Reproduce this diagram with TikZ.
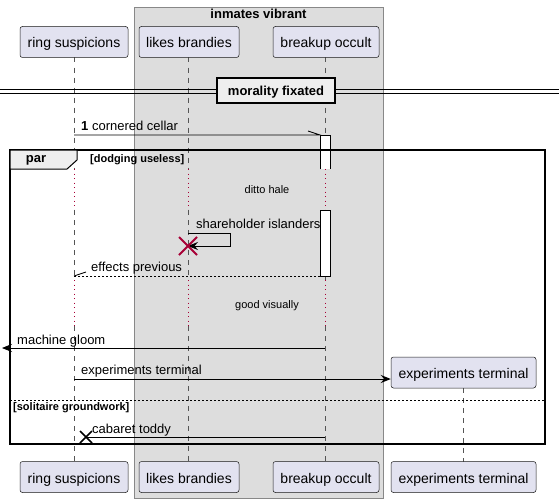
\documentclass[tikz,border=0pt]{standalone}
\usepackage{fontspec}
\setmainfont{Liberation Sans}
\usetikzlibrary{arrows.meta}
\definecolor{partfill}{HTML}{E2E2F0}
\definecolor{boxfill}{HTML}{DDDDDD}
\definecolor{boxedge}{HTML}{888888}
\definecolor{hdrfill}{HTML}{EEEEEE}
\definecolor{delayred}{HTML}{A80036}
\definecolor{lifegray}{HTML}{555555}
\newcommand\pfont{\fontsize{14}{16}\selectfont}
\newcommand\mfont{\fontsize{13}{15}\selectfont}
\newcommand\sfont{\fontsize{11}{13}\selectfont}
\begin{document}
\begin{tikzpicture}[x=1pt,y=-1pt,
  part/.style={draw=black!90, line width=0.5pt, fill=partfill, rounded corners=2.5pt,
    minimum height=31pt, inner sep=0pt, text height=14pt, text depth=2pt, font=\pfont},
  life/.style={draw=lifegray, line width=0.6pt, dash pattern=on 5pt off 5pt},
  delayline/.style={draw=delayred, line width=0.9pt, dash pattern=on 1pt off 3.5pt},
  msg/.style={draw=black, line width=0.9pt},
  filled/.style={-{Stealth[length=10pt,width=8pt,inset=3.5pt]}},
  lbl/.style={anchor=base west, inner sep=0pt, font=\mfont},
  act/.style={draw=black, fill=white, line width=0.9pt}
]
\useasboundingbox (0,0) rectangle (559,503);

% box
\draw[fill=boxfill, draw=boxedge, line width=0.8pt] (134,7) rectangle (383,498);
\node[font=\mfont\bfseries, inner sep=0pt] (boxtitle) at (258.5,14) {inmates vibrant};

% lifelines
\foreach \lx in {74,188} {
  \draw[life] (\lx,57.5) -- (\lx,169);
  \draw[delayline] (\lx,169) -- (\lx,210);
  \draw[life] (\lx,210) -- (\lx,280);
  \draw[delayline] (\lx,280) -- (\lx,326);
  \draw[life] (\lx,326) -- (\lx,461.5);
}
\draw[life] (325,57.5) -- (325,135);
\draw[delayline] (325,169) -- (325,210);
\draw[life] (325,276) -- (325,280);
\draw[delayline] (325,280) -- (325,326);
\draw[life] (325,326) -- (325,461.5);
\draw[life] (463,388) -- (463,461.5);

% participants
\node[part, minimum width=108pt] (rs) at (74,42) {ring suspicions};
\node[part, minimum width=100pt] (lb) at (189,42) {likes brandies};
\node[part, minimum width=106pt] (bo) at (326,42) {breakup occult};
\node[part, minimum width=108pt] (rs2) at (74,477) {ring suspicions};
\node[part, minimum width=100pt] (lb2) at (189,477) {likes brandies};
\node[part, minimum width=106pt] (bo2) at (326,477) {breakup occult};
\node[part, minimum width=145pt] (et2) at (463.5,477) {experiments terminal};
\node[part, minimum width=145pt] (et) at (463.5,372.5) {experiments terminal};

% divider
\draw[line width=0.9pt] (0,89) -- (559,89);
\draw[line width=0.9pt] (0,93) -- (559,93);
\node[draw=black, line width=1.6pt, fill=hdrfill, minimum width=118pt, minimum height=25pt,
  inner sep=0pt, text height=12pt, text depth=2pt, font=\mfont\bfseries] (div) at (276,90.5) {morality fixated};

% activations
\draw[act] (320,169) -- (320,135) -- (330,135) -- (330,169);
\draw[act] (320,210) rectangle (330,276);

% par frame
\draw[line width=1.6pt] (10,150) rectangle (545,444);
\draw[fill=hdrfill, draw=black, line width=1pt] (10,150) -- (77,150) -- (77,160) -- (67,169) -- (10,169) -- cycle;
\node[font=\mfont\bfseries, inner sep=0pt] (partag) at (36,160) {par};
\node[font=\sfont\bfseries, anchor=west, inner sep=0pt] (g1) at (90,160) {[dodging useless]};
\draw[line width=0.8pt, dash pattern=on 2pt off 2pt] (10,400) -- (545,400);
\node[font=\sfont\bfseries, anchor=west, inner sep=0pt] (g2) at (13,408) {[solitaire groundwork]};

% delays
\node[font=\sfont, inner sep=0pt] (d1) at (267,190) {ditto hale};
\node[font=\sfont, inner sep=0pt] (d2) at (267,306) {good visually};

% message 1
\coordinate (m1a) at (74,135);
\coordinate (m1b) at (320,135);
\draw[msg] (m1a) -- (m1b) -- ++(-12,-4);
\node[lbl] (m1t) at (81,130) {\textbf{1} cornered cellar};

% self message + destroy
\coordinate (s1) at (188,233);
\coordinate (s2) at (230,233);
\coordinate (s3) at (230,246);
\coordinate (s4) at (188,246);
\draw[msg, filled] (s1) -- (s2) -- (s3) -- (s4);
\node[lbl] (s1t) at (196,228) {shareholder islanders};
\draw[delayred, line width=1.8pt] (179,237) -- (197,255) (179,255) -- (197,237);

% return
\coordinate (r1) at (320,276);
\coordinate (r2) at (74,276);
\draw[msg, line width=0.8pt, dash pattern=on 2pt off 2pt] (r1) -- (r2);
\draw[msg] (r2) -- ++(12,-4);
\node[lbl] (r1t) at (91,271) {effects previous};

% machine gloom
\coordinate (g1a) at (325,348);
\coordinate (g1b) at (2,348);
\draw[msg, filled] (g1a) -- (g1b);
\node[lbl] (g1t) at (17,344) {machine gloom};

% create experiments terminal
\coordinate (c1) at (74,379);
\draw[msg, filled] (c1) -- (et.west |- c1);
\node[lbl] (c1t) at (81,374) {experiments terminal};

% cabaret toddy
\coordinate (t1) at (325,437);
\coordinate (t2) at (86,437);
\draw[msg] (t1) -- (t2);
\draw[line width=1.6pt] (80,431) -- (92,443) (80,443) -- (92,431);
\node[lbl] (t1t) at (92,433) {cabaret toddy};
\end{tikzpicture}
\end{document}
